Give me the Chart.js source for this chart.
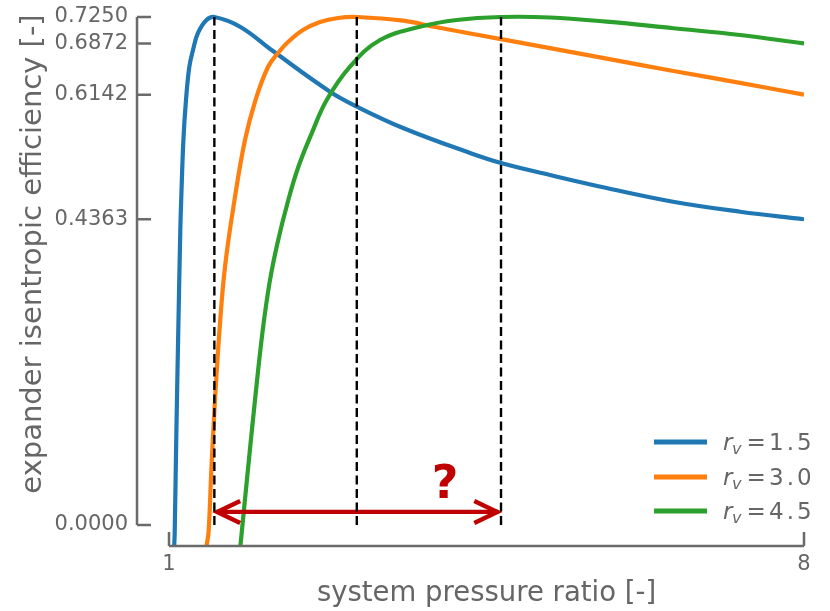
<html>
<head>
    <meta charset="UTF-8">
    <title>Expander isentropic efficiency</title>
    <style>
        body { margin: 0; background: #fff; }
        canvas { display: block; }
    </style>
</head>
<body>
    <canvas id="effChart" width="830" height="611"></canvas>
    <script src="https://cdn.jsdelivr.net/npm/chart.js"></script>
    <script>
        // values
        const xBlue = [1.0573, 1.0628, 1.0816, 1.1025, 1.1246, 1.1345, 1.1587, 1.1874, 1.2238, 1.2646, 1.3197, 1.4134, 1.50, 1.783, 2.15, 2.775, 3.073, 3.58, 4.318, 4.66, 5.20, 5.825, 6.556, 7.295, 8.0];
        const yBlue = [-0.030, -0.0114, 0.1356, 0.2783, 0.4210, 0.4638, 0.5494, 0.6065, 0.6536, 0.6779, 0.7022, 0.7207, 0.725, 0.7111, 0.676, 0.6184, 0.597, 0.5666, 0.5309, 0.5166, 0.4995, 0.4809, 0.4614, 0.4471, 0.4363];

        const xOrange = [1.413, 1.4355, 1.4685, 1.5071, 1.5545, 1.6174, 1.7221, 1.8378, 1.9536, 2.0914, 2.2016, 2.3119, 2.4772, 2.6646, 2.8631, 3.07, 3.583, 3.951, 4.66, 5.20, 5.825, 6.56, 7.295, 8.0];
        const yOrange = [-0.030, -0.0114, 0.0832, 0.1784, 0.2740, 0.3686, 0.4638, 0.5494, 0.6065, 0.6536, 0.6736, 0.6893, 0.7064, 0.7178, 0.7236, 0.725, 0.7197, 0.7103, 0.6935, 0.6805, 0.6655, 0.6480, 0.6310, 0.6142];

        const xGreen = [1.7871, 1.8665, 1.9481, 2.0308, 2.1079, 2.1961, 2.3152, 2.4254, 2.5731, 2.7385, 2.9954, 3.3261, 3.7671, 4.1716, 4.66, 5.20, 5.825, 6.56, 7.295, 8.0];
        const yGreen = [-0.030, 0.0742, 0.1784, 0.2754, 0.3454, 0.4025, 0.4638, 0.5109, 0.5590, 0.6065, 0.6541, 0.6922, 0.7111, 0.7207, 0.725, 0.7243, 0.7183, 0.7089, 0.6993, 0.6872];

        const seriesLabels = ['1.5', '3.0', '4.5'];
        const seriesColors = ['#1f77b4', '#ff7f0e', '#2ca02c'];

        const peakX = [1.5, 3.07, 4.66];
        const peakY = 0.725;

        const arrowX = [1.52, 4.63];
        const arrowY = 0.0186;
        const questionPos = { x: 4.043, y: 0.0385 };

        const yTicks = [0.0, 0.4363, 0.6142, 0.6872, 0.7250];
        const xTicks = [1, 8];
        const yTitle = 'expander isentropic efficiency [-]';

        const textGray = '#666666';
        const red = '#c00000';

        function pts(xs, ys) {
            return xs.map((x, i) => ({ x: x, y: ys[i] }));
        }

        const curves = [pts(xBlue, yBlue), pts(xOrange, yOrange), pts(xGreen, yGreen)];

        const datasets = [];
        curves.forEach((d, i) => {
            datasets.push({
                label: 'r_v = ' + seriesLabels[i],
                data: d,
                borderColor: seriesColors[i],
                borderWidth: 4.2,
                tension: 0.4,
                pointRadius: 0,
                order: 5 - i
            });
        });
        // arrow shaft
        datasets.push({
            label: 'arrow',
            data: arrowX.map(x => ({ x: x, y: arrowY })),
            borderColor: red,
            borderWidth: 4.2,
            pointRadius: 0,
            order: 2
        });
        // dashed lines at the maxima
        peakX.forEach(px => {
            datasets.push({
                label: 'peak',
                data: [{ x: px, y: 0 }, { x: px, y: peakY }],
                borderColor: '#000',
                borderWidth: 2.4,
                borderDash: [9, 4.5],
                pointRadius: 0,
                order: 1
            });
        });

        const decorations = {
            id: 'decorations',
            afterDatasetDraw(chart, args) {
                if (chart.data.datasets[args.index].label !== 'arrow') return;
                const els = args.meta.data;
                const ctx = chart.ctx;
                ctx.save();
                ctx.strokeStyle = red;
                ctx.lineWidth = 4.4;
                ctx.lineJoin = 'miter';
                ctx.lineCap = 'butt';
                [[els[0], 1], [els[els.length - 1], -1]].forEach(([p, dir]) => {
                    ctx.beginPath();
                    ctx.moveTo(p.x + dir * 24, p.y - 11);
                    ctx.lineTo(p.x + dir * 1, p.y);
                    ctx.lineTo(p.x + dir * 24, p.y + 11);
                    ctx.stroke();
                });
                ctx.restore();
            },
            afterDraw(chart) {
                const ctx = chart.ctx;
                const xs = chart.scales.x, ys = chart.scales.y;
                const area = chart.chartArea;
                ctx.save();
                // spines, offset like the original
                ctx.strokeStyle = '#6a6a6a';
                ctx.lineWidth = 2.5;
                const sx = area.left - 32;
                ctx.beginPath();
                ctx.moveTo(sx, ys.getPixelForValue(yTicks[yTicks.length - 1]));
                ctx.lineTo(sx, ys.getPixelForValue(yTicks[0]));
                yTicks.forEach(v => {
                    const p = ys.getPixelForValue(v);
                    ctx.moveTo(sx, p);
                    ctx.lineTo(sx + 14, p);
                });
                const by = area.bottom;
                ctx.moveTo(xs.getPixelForValue(xTicks[0]), by);
                ctx.lineTo(xs.getPixelForValue(xTicks[xTicks.length - 1]), by);
                xTicks.forEach(v => {
                    const p = xs.getPixelForValue(v);
                    ctx.moveTo(p, by);
                    ctx.lineTo(p, by - 14);
                });
                ctx.stroke();

                // y axis title
                ctx.save();
                ctx.translate(33, (area.top + area.bottom) / 2 - 20);
                ctx.rotate(-Math.PI / 2);
                ctx.fillStyle = textGray;
                ctx.font = '29px "DejaVu Sans"';
                ctx.textAlign = 'center';
                ctx.textBaseline = 'middle';
                ctx.fillText(yTitle, 0, 0);
                ctx.restore();

                // question mark
                ctx.fillStyle = red;
                ctx.font = 'bold 46px "DejaVu Sans"';
                ctx.textAlign = 'center';
                ctx.textBaseline = 'alphabetic';
                ctx.fillText('?', xs.getPixelForValue(questionPos.x), ys.getPixelForValue(questionPos.y));

                // legend
                const rows = [area.bottom - 104, area.bottom - 69, area.bottom - 35];
                const lx = area.right - 150;
                ctx.textAlign = 'left';
                rows.forEach((ry, i) => {
                    ctx.strokeStyle = seriesColors[i];
                    ctx.lineWidth = 4.8;
                    ctx.beginPath();
                    ctx.moveTo(lx, ry);
                    ctx.lineTo(lx + 53, ry);
                    ctx.stroke();
                    ctx.fillStyle = textGray;
                    const tx = lx + 69;
                    const base = ry + 8;
                    ctx.letterSpacing = '0px';
                    ctx.font = 'italic 23px "DejaVu Sans"';
                    ctx.fillText('r', tx, base);
                    ctx.font = 'italic 16px "DejaVu Sans"';
                    ctx.fillText('v', tx + 9, base + 4);
                    ctx.font = '23px "DejaVu Sans"';
                    ctx.fillText('=', tx + 23.5, base);
                    ctx.letterSpacing = '3px';
                    ctx.fillText(seriesLabels[i], tx + 46, base);
                });
                ctx.restore();
            }
        };

        const config = {
            type: 'line',
            data: { datasets: datasets },
            options: {
                responsive: false,
                animation: false,
                devicePixelRatio: 1,
                layout: { padding: { top: 2, right: 26, left: 0, bottom: 0 } },
                plugins: {
                    legend: { display: false },
                    tooltip: { enabled: false }
                },
                scales: {
                    x: {
                        type: 'linear',
                        min: 1,
                        max: 8,
                        afterFit: (scale) => {
                            scale.height = 65;
                            scale.paddingLeft = 0;
                            scale.paddingRight = 0;
                        },
                        afterBuildTicks: (scale) => { scale.ticks = xTicks.map(v => ({ value: v })); },
                        grid: { display: false, drawTicks: false },
                        border: { display: false },
                        ticks: {
                            autoSkip: false,
                            maxRotation: 0,
                            padding: 6,
                            color: textGray,
                            font: { family: 'DejaVu Sans', size: 21 },
                            callback: (v) => String(v)
                        },
                        title: {
                            display: true,
                            text: 'system pressure ratio [-]',
                            color: textGray,
                            font: { family: 'DejaVu Sans', size: 27.5, lineHeight: 1 },
                            padding: { top: 0, bottom: 3 }
                        }
                    },
                    y: {
                        type: 'linear',
                        min: -0.02997,
                        max: 0.74639,
                        afterFit: (scale) => {
                            scale.width = 169;
                            scale.paddingTop = 0;
                            scale.paddingBottom = 0;
                        },
                        afterBuildTicks: (scale) => { scale.ticks = yTicks.map(v => ({ value: v })); },
                        grid: { display: false, drawTicks: false },
                        border: { display: false },
                        ticks: {
                            autoSkip: false,
                            padding: 41,
                            color: textGray,
                            font: { family: 'DejaVu Sans', size: 21 },
                            callback: (v) => v.toFixed(4)
                        },
                        title: { display: false }
                    }
                }
            },
            plugins: [decorations]
        };

        const effChart = new Chart(document.getElementById('effChart').getContext('2d'), config);
    </script>
</body>
</html>
